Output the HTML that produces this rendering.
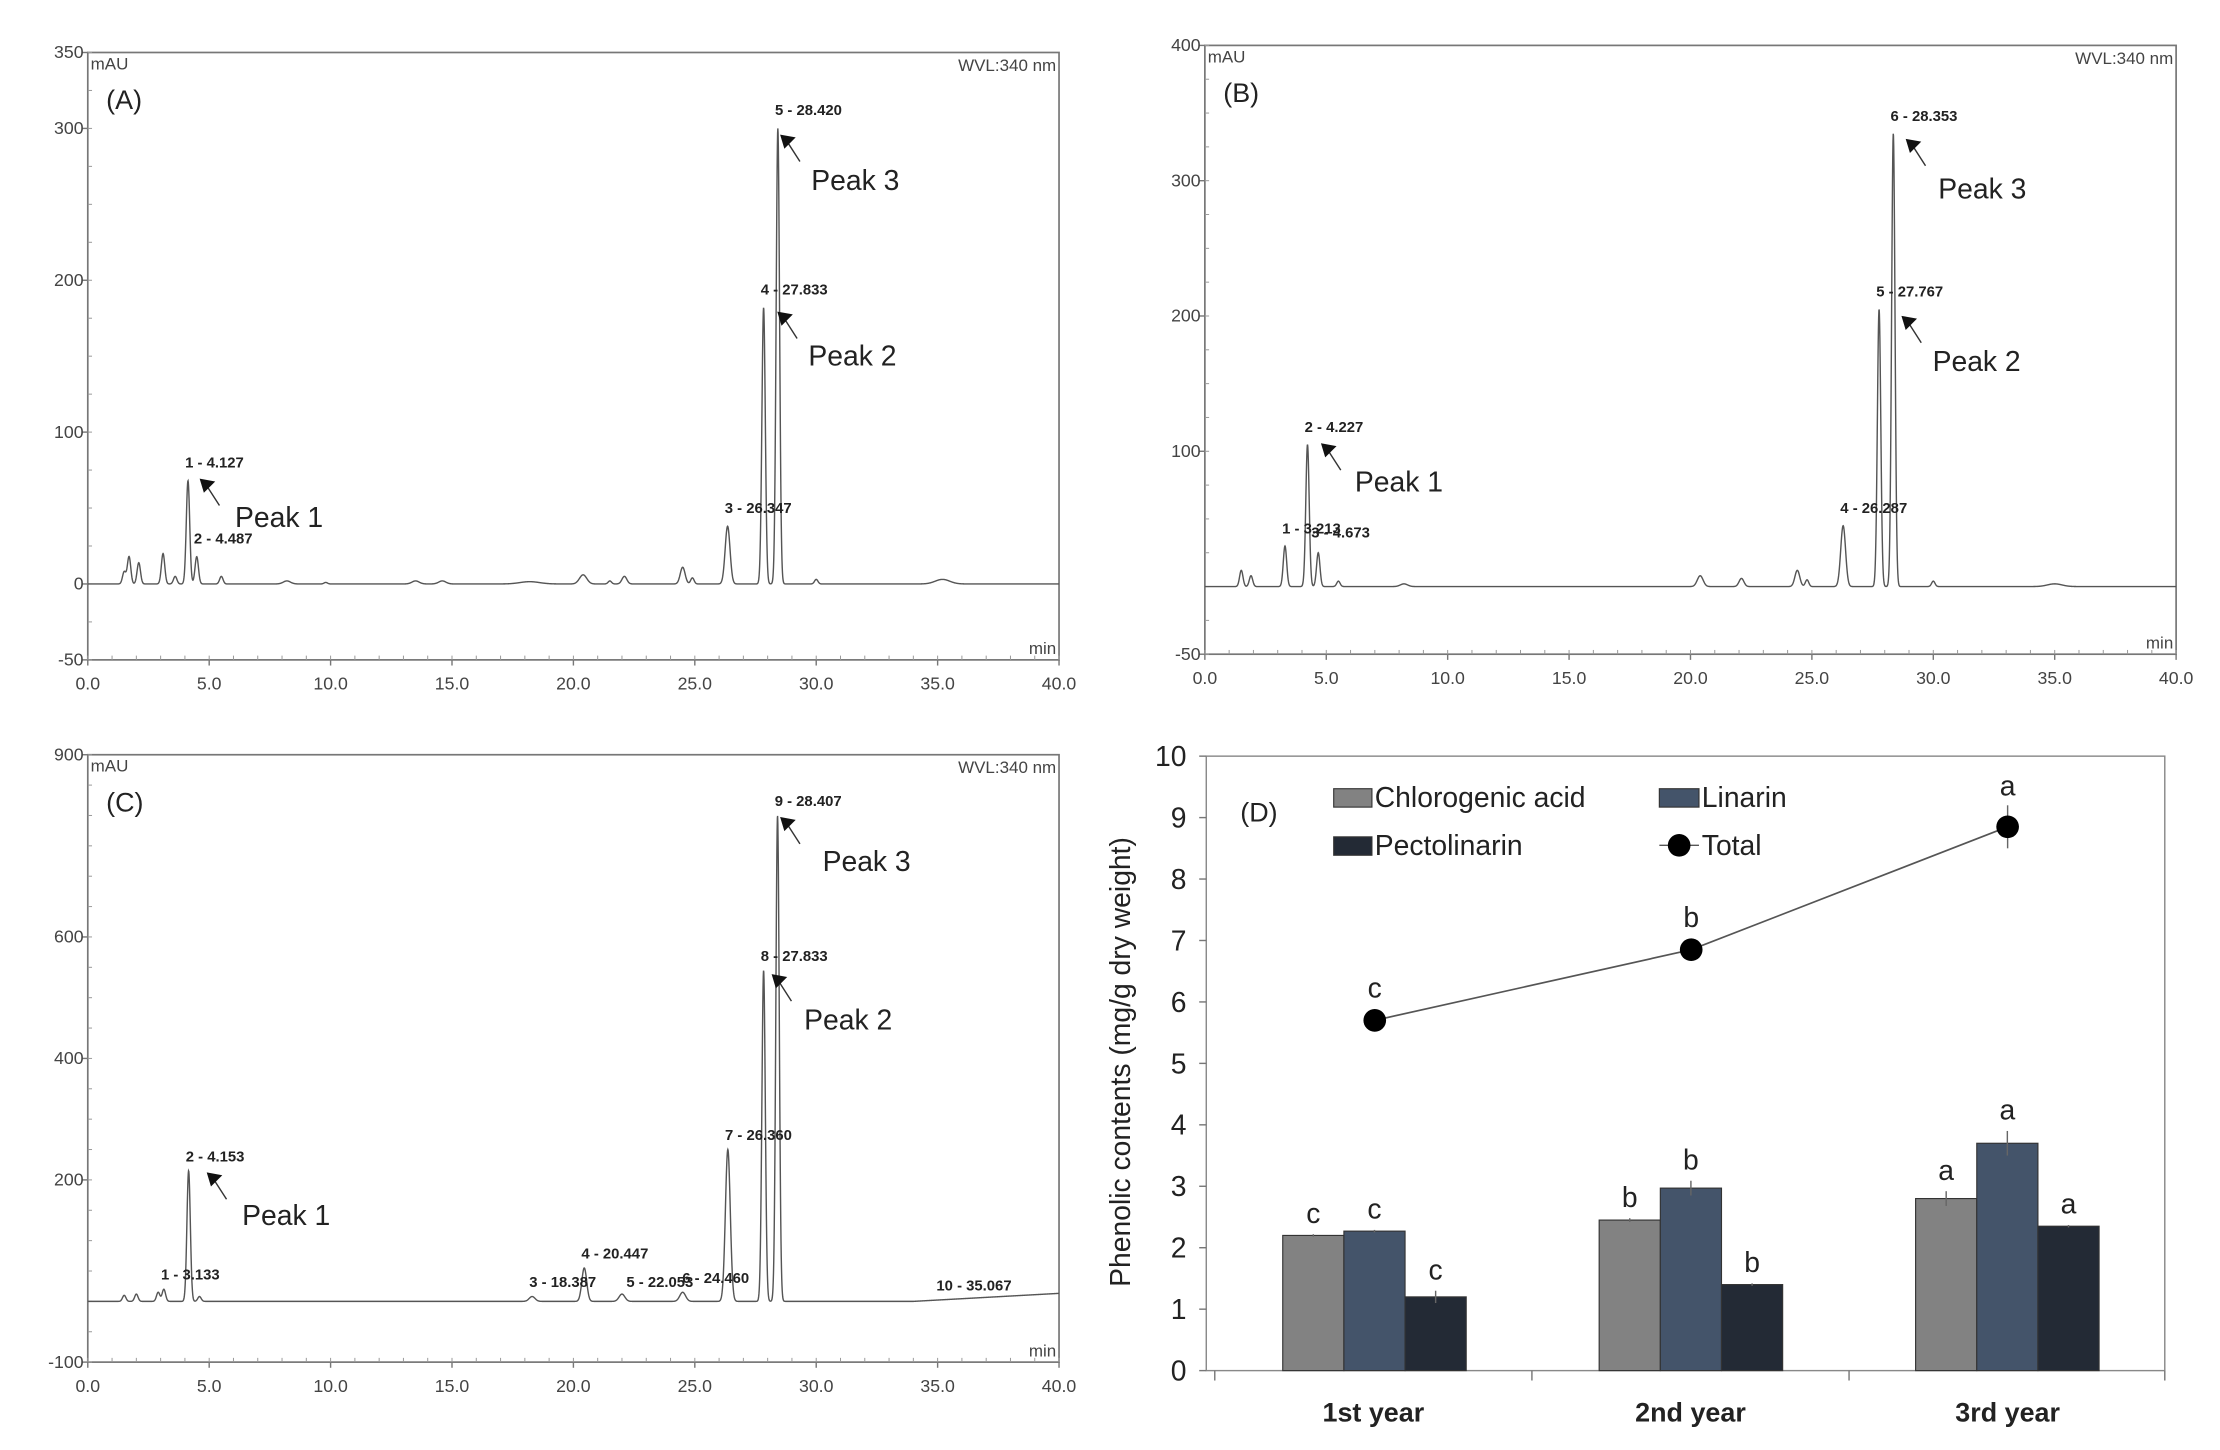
<!DOCTYPE html>
<html><head><meta charset="utf-8"><style>
html,body{margin:0;padding:0;background:#fff}
svg{display:block}
text{font-family:"Liberation Sans",sans-serif}
</style></head><body>
<svg id="s" width="2220" height="1450" viewBox="0 0 1568 1024" xmlns="http://www.w3.org/2000/svg">
<rect width="1568" height="1024" fill="#fff"/>
<g id="g"></g>
</svg>
<script>
var g=document.getElementById('g');var NS='http://www.w3.org/2000/svg';
function el(t,a,txt){var e=document.createElementNS(NS,t);for(var k in a)e.setAttribute(k,a[k]);if(txt!=null)e.textContent=txt;g.appendChild(e);return e;}
function chrom(o){
 var x0=o.x0,x1=o.x1,ytop=o.ytop,ybot=o.ybot,vtop=o.vtop,vbot=o.vbot;
 function X(t){return x0+(x1-x0)*t/40;}
 function Y(v){return ytop+(ybot-ytop)*(vtop-v)/(vtop-vbot);}
 el('rect',{x:x0,y:ytop,width:x1-x0,height:ybot-ytop,fill:'none',stroke:'#777','stroke-width':1.2});
 o.yt.forEach(function(v){var y=Y(v);el('line',{x1:x0-4,y1:y,x2:x0,y2:y,stroke:'#777'});
  el('text',{x:x0-3,y:y+4,'font-size':12.5,'text-anchor':'end',fill:'#444'},v);});
 for(var v=vbot;v<=vtop;v+=o.minor){var y=Y(v);el('line',{x1:x0,y1:y,x2:x0+3,y2:y,stroke:'#999','stroke-width':0.7});}
 for(var t=0;t<=40;t+=5){var x=X(t);el('line',{x1:x,y1:ybot,x2:x,y2:ybot+4,stroke:'#777'});
  el('text',{x:x,y:ybot+21,'font-size':12.5,'text-anchor':'middle',fill:'#444'},t.toFixed(1));}
 for(var t=0;t<=40;t+=1){var x=X(t);el('line',{x1:x,y1:ybot,x2:x,y2:ybot-3,stroke:'#999','stroke-width':0.7});}
 el('text',{x:x0+2,y:ytop+12,'font-size':12,fill:'#444'},'mAU');
 el('text',{x:x1-2,y:ytop+13,'font-size':12,'text-anchor':'end',fill:'#444'},'WVL:340 nm');
 el('text',{x:x1-2,y:ybot-4,'font-size':12,'text-anchor':'end',fill:'#444'},'min');
 el('text',{x:x0+13,y:ytop+40,'font-size':19,fill:'#222'},o.tag);
 var d='';for(var i=0;i<=4000;i++){var t=i*0.01;var v=0;if(o.base)v+=o.base(t);
  o.peaks.forEach(function(p){var s=p[2]||0.07;v+=p[1]*Math.exp(-(t-p[0])*(t-p[0])/(2*s*s));});
  d+=(i?'L':'M')+X(t).toFixed(2)+' '+Y(v).toFixed(2);}
 el('path',{d:d,fill:'none',stroke:'#555','stroke-width':1});
 o.labels.forEach(function(l){el('text',{x:X(l[0])-2,y:Y(l[1])-5,'font-size':10.5,'font-weight':'bold',fill:'#222'},l[2]);});
 o.arrows.forEach(function(a){var ax=a[0],ay=a[1];
  el('line',{x1:ax+5,y1:ay+5,x2:ax+14,y2:ay+19,stroke:'#333','stroke-width':1});
  el('polygon',{points:ax+','+ay+' '+(ax+11)+','+(ay+2)+' '+(ax+3)+','+(ay+10),fill:'#111'});
  el('text',{x:a[3],y:a[4],'font-size':20,fill:'#222'},a[2]);});
}
chrom({x0:62,x1:748,ytop:37,ybot:466,vtop:350,vbot:-50,yt:[350,300,200,100,0,-50],minor:25,tag:'(A)',
 peaks:[[1.5,8],[1.7,18],[2.1,14],[3.1,20],[3.6,5],[4.127,68],[4.487,18],[5.5,5],[8.2,2,0.15],[9.8,1],[13.5,2,0.15],[14.6,2,0.15],[18.2,1.5,0.4],[20.4,6,0.15],[21.5,2],[22.1,5,0.1],[24.5,11,0.1],[24.9,4],[26.35,38,0.1],[27.833,182],[28.42,300],[30,3],[35.2,3,0.3]],
 labels:[[4.127,72,'1 - 4.127'],[4.487,22,'2 - 4.487'],[26.35,42,'3 - 26.347'],[27.833,186,'4 - 27.833'],[28.42,304,'5 - 28.420']],
 arrows:[[141,338,'Peak 1',166,372],[551,95,'Peak 3',573,134],[549,220,'Peak 2',571,258]]});
chrom({x0:851,x1:1537,ytop:32,ybot:462,vtop:400,vbot:-50,yt:[400,300,200,100,-50],minor:25,tag:'(B)',
 peaks:[[1.5,12],[1.9,8],[3.3,30],[4.227,105],[4.67,25],[5.5,4],[8.2,2,0.15],[20.4,8,0.12],[22.1,6,0.1],[24.4,12,0.1],[24.8,5],[26.287,45,0.1],[27.767,205],[28.353,335],[30,4],[35,2,0.3]],
 labels:[[4.227,109,'2 - 4.227'],[3.3,34,'1 - 3.213'],[4.5,31,'3 - 4.673'],[26.287,49,'4 - 26.287'],[27.767,209,'5 - 27.767'],[28.353,339,'6 - 28.353']],
 arrows:[[933,313,'Peak 1',957,347],[1346,98,'Peak 3',1369,140],[1343,223,'Peak 2',1365,262]]});
chrom({x0:62,x1:748,ytop:533,ybot:962,vtop:900,vbot:-100,yt:[900,600,400,200,-100],minor:50,tag:'(C)',
 base:function(t){return t>34?(t-34)*2.2:0;},
 peaks:[[1.5,10],[2,12],[2.9,15],[3.133,20],[4.153,215],[4.6,8],[18.3,8,0.12],[20.447,55,0.1],[22,12,0.12],[24.5,15,0.12],[26.36,250,0.1],[27.833,545],[28.407,800]],
 labels:[[3.133,24,'1 - 3.133'],[4.153,219,'2 - 4.153'],[18.3,12,'3 - 18.387'],[20.447,59,'4 - 20.447'],[22.3,12,'5 - 22.053'],[24.6,19,'6 - 24.460'],[26.36,254,'7 - 26.360'],[27.833,549,'8 - 27.833'],[28.407,804,'9 - 28.407'],[35.067,6,'10 - 35.067']],
 arrows:[[146,828,'Peak 1',171,865],[551,577,'Peak 3',581,615],[545,688,'Peak 2',568,727]]});
(function(){
 var x0=852,x1=1529,y0=968,yt=534;function Y(v){return y0-(y0-yt)*v/10;}
 el('rect',{x:x0,y:yt,width:x1-x0,height:y0-yt,fill:'none',stroke:'#888','stroke-width':1});
 for(var v=0;v<=10;v++){var y=Y(v);el('line',{x1:x0-5,y1:y,x2:x0,y2:y,stroke:'#777'});
  el('text',{x:x0-14,y:y+7,'font-size':20,'text-anchor':'end',fill:'#222'},v);}
 [858,1082,1306,1529].forEach(function(x){el('line',{x1:x,y1:y0,x2:x,y2:y0+7,stroke:'#777'});});
 ['1st year','2nd year','3rd year'].forEach(function(s,i){el('text',{x:970+i*224,y:1004,'font-size':19,'font-weight':'bold','text-anchor':'middle',fill:'#222'},s);});
 el('text',{x:0,y:0,'font-size':20,'text-anchor':'middle',fill:'#222',transform:'translate(798,750) rotate(-90)'},'Phenolic contents (mg/g dry weight)');
 var cols=['#828282','#44546a','#232a35'];var vals=[[2.2,2.27,1.2],[2.45,2.97,1.4],[2.8,3.7,2.35]];
 var errs=[[0.02,0.02,0.1],[0.03,0.12,0.02],[0.12,0.2,0.02]];var lets=['c','b','a'];
 vals.forEach(function(gv,i){gv.forEach(function(v,j){var x=906+i*223.5+j*43.2;
  el('rect',{x:x,y:Y(v),width:43.2,height:y0-Y(v),fill:cols[j],stroke:'#333','stroke-width':0.8});
  var cx=x+21.6;el('line',{x1:cx,y1:Y(v+errs[i][j]),x2:cx,y2:Y(v-errs[i][j]),stroke:'#666'});
  el('text',{x:cx,y:Y(v+errs[i][j])-8,'font-size':20,'text-anchor':'middle',fill:'#222'},lets[i]);});});
 var tx=[971,1194.5,1418],tv=[5.7,6.85,8.85];
 el('polyline',{points:tx.map(function(x,i){return x+','+Y(tv[i]);}).join(' '),fill:'none',stroke:'#555','stroke-width':1.2});
 el('line',{x1:1418,y1:Y(9.2),x2:1418,y2:Y(8.5),stroke:'#666'});
 tx.forEach(function(x,i){el('circle',{cx:x,cy:Y(tv[i]),r:8,fill:'#000'});
  el('text',{x:x,y:Y(tv[i])-(i==2?22:16),'font-size':20,'text-anchor':'middle',fill:'#222'},lets[i]);});
 el('text',{x:876,y:580,'font-size':19,fill:'#222'},'(D)');
 el('rect',{x:942,y:557,width:27,height:13,fill:cols[0],stroke:'#333','stroke-width':0.8});
 el('text',{x:971,y:570,'font-size':20,fill:'#222'},'Chlorogenic acid');
 el('rect',{x:1172,y:557,width:28,height:13,fill:cols[1],stroke:'#333','stroke-width':0.8});
 el('text',{x:1202,y:570,'font-size':20,fill:'#222'},'Linarin');
 el('rect',{x:942,y:591,width:27,height:13,fill:cols[2],stroke:'#333','stroke-width':0.8});
 el('text',{x:971,y:604,'font-size':20,fill:'#222'},'Pectolinarin');
 el('line',{x1:1172,y1:597,x2:1200,y2:597,stroke:'#555'});
 el('circle',{cx:1186,cy:597,r:8,fill:'#000'});
 el('text',{x:1202,y:604,'font-size':20,fill:'#222'},'Total');
})();
</script>
</body></html>
